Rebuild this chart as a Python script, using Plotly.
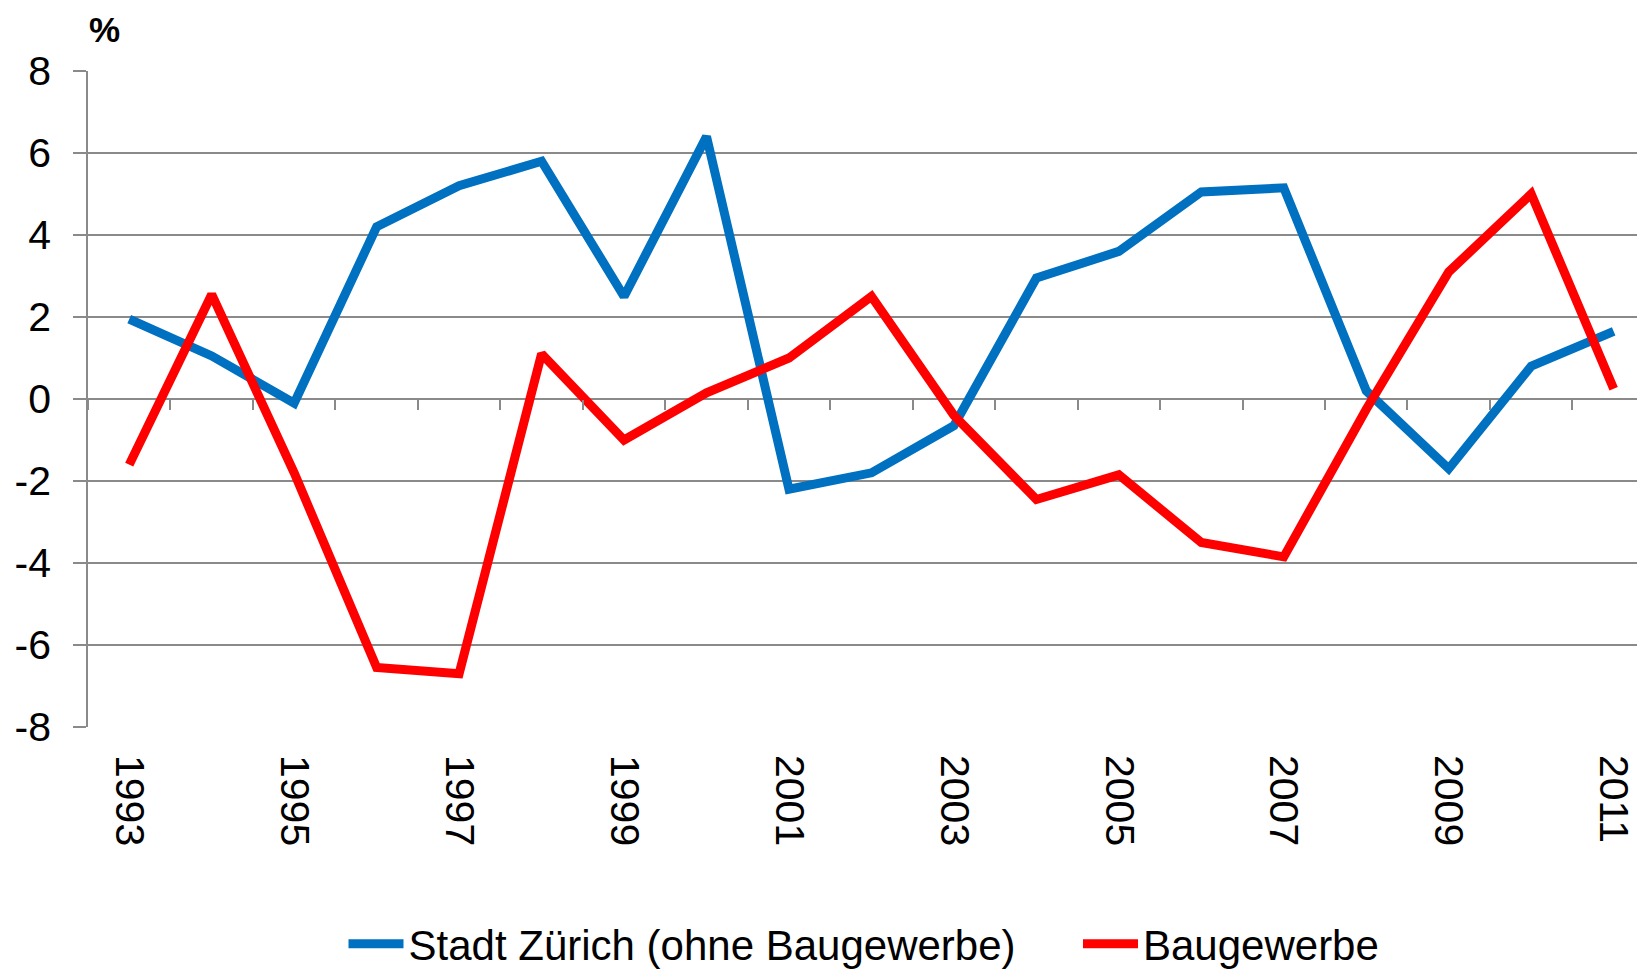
import plotly.graph_objects as go

years = list(range(1993, 2012))
stadt_zuerich = [1.95, 1.05, -0.1, 4.2, 5.2, 5.8, 2.5, 6.4, -2.2, -1.8, -0.65, 2.95, 3.6, 5.05, 5.15, 0.2, -1.7, 0.8, 1.65]
baugewerbe = [-1.6, 2.55, -1.8, -6.55, -6.7, 1.1, -1.0, 0.15, 1.0, 2.5, -0.4, -2.45, -1.85, -3.5, -3.85, -0.25, 3.1, 5.0, 0.25]

x_label_years = [str(y) for y in years[::2]]
y_tick_vals = [-8, -6, -4, -2, 0, 2, 4, 6, 8]
y_tick_text = ["-8", "-6", "-4", "-2", "0", "2", "4", "6", "8"]

idx = list(range(len(years)))
boundaries = [i - 0.5 for i in range(len(years) + 1)]

FONT = "Liberation Sans, Arial, sans-serif"
GRID = "#8a8a8a"

# the page body has an 8px margin, so the figure is sized to fit the window
W, H = 1637, 961
TOP, PLOT_H = 63, 656

fig = go.Figure()
fig.add_trace(go.Scatter(x=idx, y=stadt_zuerich, mode="lines", name="Stadt Zürich (ohne Baugewerbe)",
                         line=dict(color="#0070C0", width=9)))
fig.add_trace(go.Scatter(x=idx, y=baugewerbe, mode="lines", name="Baugewerbe",
                         line=dict(color="#FF0000", width=9)))
# helper trace for the tick-mark axis crossing at zero
fig.add_trace(go.Scatter(x=[None], y=[None], xaxis="x2", showlegend=False, hoverinfo="skip"))

xr = [-0.5, 18.38]
fig.update_layout(
    width=W, height=H,
    margin=dict(l=80, r=0, t=TOP, b=H - TOP - PLOT_H, autoexpand=False),
    paper_bgcolor="white", plot_bgcolor="white",
    font=dict(family=FONT, color="black"),
    showlegend=True,
    legend=dict(orientation="h", xref="container", yref="container",
                x=335.5 / W, xanchor="left", y=1 - 936 / H, yanchor="middle",
                font=dict(size=42, family=FONT, color="black"), itemwidth=55,
                entrywidth=664.5, entrywidthmode="pixels",
                bgcolor="rgba(0,0,0,0)"),
    xaxis=dict(range=xr, tickmode="array", tickvals=idx[::2], ticktext=x_label_years,
               tickangle=90, tickfont=dict(size=41), ticks="", showgrid=False,
               showline=False, zeroline=False, ticklabelstandoff=27, automargin=False),
    xaxis2=dict(range=xr, overlaying="x", anchor="free", position=0.5, side="bottom",
                tickmode="array", tickvals=boundaries, ticks="outside", ticklen=10,
                tickcolor=GRID, tickwidth=1.5, showticklabels=False, showgrid=False,
                showline=False, zeroline=False, automargin=False),
    yaxis=dict(range=[-8, 8], tickmode="array", tickvals=y_tick_vals, ticktext=y_tick_text,
               tickfont=dict(size=41), showgrid=True, gridcolor=GRID, gridwidth=1.5,
               zeroline=True, zerolinecolor=GRID, zerolinewidth=2,
               showline=True, linecolor=GRID, linewidth=1.5,
               ticks="outside", ticklen=13, tickcolor=GRID, tickwidth=1.5,
               ticklabelstandoff=14, automargin=False),
    annotations=[dict(text="<b>%</b>", xref="paper", yref="paper", x=0.0, y=1 + (TOP - 1) / PLOT_H,
                      xanchor="left", yanchor="top", showarrow=False, borderpad=0,
                      font=dict(size=35, family=FONT, color="black"))],
)

fig.write_html("out.html")
